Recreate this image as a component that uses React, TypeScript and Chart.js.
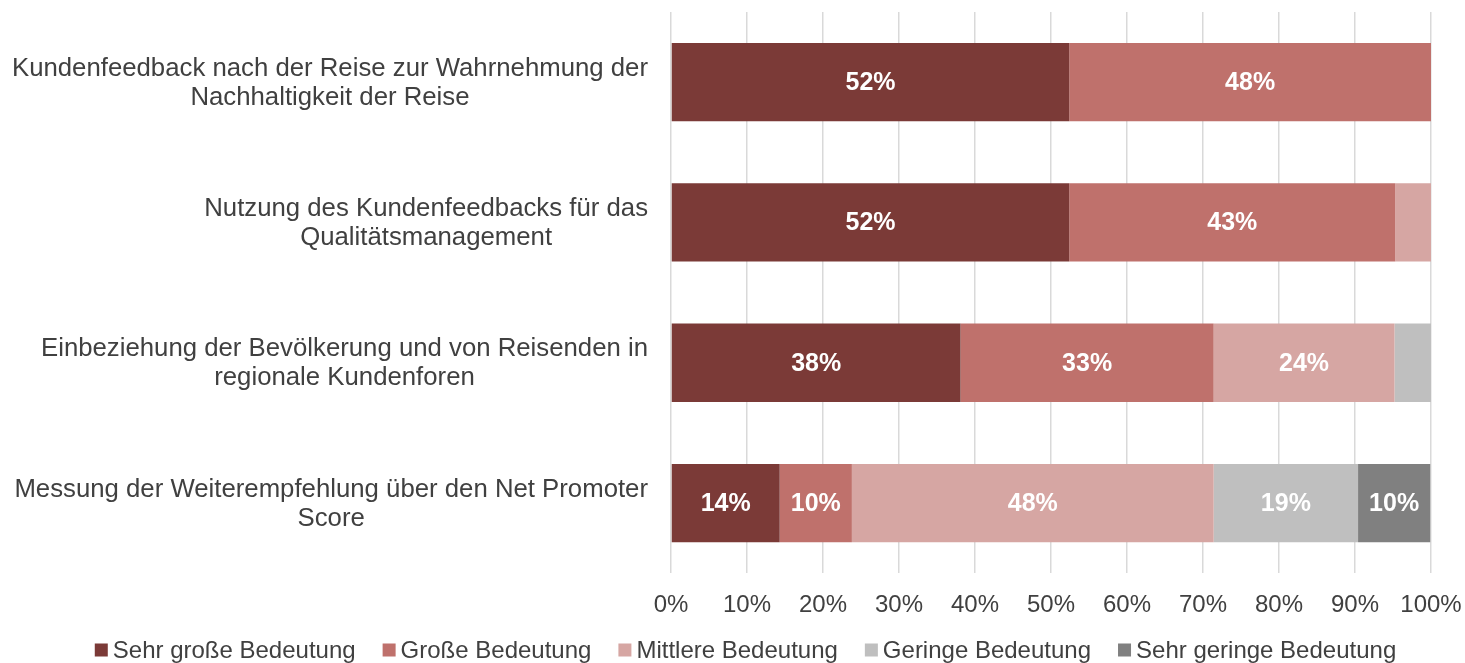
import React, { useEffect, useRef } from "react";
import { Chart, registerables } from "chart.js";

Chart.register(...registerables);

const categories: string[][] = [
  ["Kundenfeedback nach der Reise zur Wahrnehmung der", "Nachhaltigkeit der Reise"],
  ["Nutzung des Kundenfeedbacks für das", "Qualitätsmanagement"],
  ["Einbeziehung der Bevölkerung und von Reisenden in", "regionale Kundenforen"],
  ["Messung der Weiterempfehlung über den Net Promoter", "Score"],
];

const seriesNames = [
  "Sehr große Bedeutung",
  "Große Bedeutung",
  "Mittlere Bedeutung",
  "Geringe Bedeutung",
  "Sehr geringe Bedeutung",
];

const sehrGross = [52.4, 52.4, 38.1, 14.3];
const gross = [47.6, 42.9, 33.3, 9.5];
const mittlere = [0, 4.7, 23.8, 47.6];
const geringe = [0, 0, 4.8, 19.0];
const sehrGering = [0, 0, 0, 9.5];

const seriesColors = ["#7B3A37", "#BF716C", "#D6A6A3", "#BFBFBF", "#808080"];

const xTicks = [0, 10, 20, 30, 40, 50, 60, 70, 80, 90, 100];

const FONT = "'Liberation Sans', Arial, sans-serif";
const TEXT = "#404040";

const valueLabelPlugin = {
  id: "valueLabels",
  afterDatasetsDraw(chart: any) {
    const ctx = chart.ctx;
    ctx.save();
    ctx.font = `bold 25px ${FONT}`;
    ctx.fillStyle = "#FFFFFF";
    ctx.textAlign = "center";
    ctx.textBaseline = "middle";
    chart.data.datasets.forEach((ds: any, di: number) => {
      const meta = chart.getDatasetMeta(di);
      meta.data.forEach((el: any, i: number) => {
        const v = ds.data[i];
        if (v < 9) return;
        const cx = (el.x + el.base) / 2;
        ctx.fillText(`${Math.round(v)}%`, cx, el.y + 1);
      });
    });
    ctx.restore();
  },
};

// Category labels: each block right-aligned to the axis, lines centred within the block
const categoryLabelPlugin = {
  id: "categoryLabels",
  afterDraw(chart: any) {
    const ctx = chart.ctx;
    const yScale = chart.scales.y;
    const rightEdge = chart.chartArea.left - 23;
    const lineH = 29;
    ctx.save();
    ctx.font = `25.75px ${FONT}`;
    ctx.fillStyle = TEXT;
    ctx.textAlign = "center";
    ctx.textBaseline = "middle";
    (chart.data.labels as string[][]).forEach((lines, i) => {
      const yc = yScale.getPixelForValue(i);
      const maxW = Math.max(...lines.map((l) => ctx.measureText(l).width));
      const cx = rightEdge - maxW / 2;
      const y0 = yc - ((lines.length - 1) * lineH) / 2;
      lines.forEach((l, k) => ctx.fillText(l, cx, y0 + k * lineH + 1));
    });
    ctx.restore();
  },
};

const legendPlugin = {
  id: "customLegend",
  afterDraw(chart: any) {
    const ctx = chart.ctx;
    ctx.save();
    ctx.font = `24px ${FONT}`;
    ctx.textBaseline = "middle";
    ctx.textAlign = "left";
    const box = 13;
    const gap = 5;
    const spacing = 27;
    const widths = seriesNames.map((n) => ctx.measureText(n).width);
    const total =
      widths.reduce((a, b) => a + b, 0) + seriesNames.length * (box + gap) + spacing * (seriesNames.length - 1);
    let x = chart.width / 2 + 13 - total / 2;
    const yc = 650;
    seriesNames.forEach((n, i) => {
      ctx.fillStyle = seriesColors[i];
      ctx.fillRect(x, yc - box / 2, box, box);
      x += box + gap;
      ctx.fillStyle = TEXT;
      ctx.fillText(n, x, yc + 1);
      x += widths[i] + spacing;
    });
    ctx.restore();
  },
};

export default function App() {
  const ref = useRef<HTMLCanvasElement | null>(null);
  useEffect(() => {
    if (!ref.current) return;
    const data = [sehrGross, gross, mittlere, geringe, sehrGering];
    const chart = new Chart(ref.current, {
      type: "bar",
      data: {
        labels: categories,
        datasets: seriesNames.map((name, i) => ({
          label: name,
          data: data[i],
          backgroundColor: seriesColors[i],
          borderWidth: 0,
          categoryPercentage: 1,
          barPercentage: 0.558,
        })),
      },
      options: {
        indexAxis: "y",
        animation: false,
        responsive: false,
        devicePixelRatio: 1,
        layout: { padding: { top: 12, right: 34, bottom: 25, left: 0 } },
        plugins: {
          legend: { display: false },
          tooltip: { enabled: false },
        },
        scales: {
          x: {
            stacked: true,
            min: 0,
            max: 100,
            afterBuildTicks: (scale: any) => {
              scale.ticks = xTicks.map((v) => ({ value: v }));
            },
            afterFit: (scale: any) => {
              scale.paddingLeft = 0;
              scale.paddingRight = 0;
            },
            ticks: {
              callback: (v: any) => `${v}%`,
              color: TEXT,
              font: { family: FONT, size: 24, lineHeight: 1.2 },
              padding: 18,
              maxRotation: 0,
            },
            grid: { color: "#D9D9D9", lineWidth: 1.5, drawTicks: false },
            border: { display: false },
          },
          y: {
            stacked: true,
            afterFit: (scale: any) => {
              scale.width = 671;
              scale.paddingTop = 0;
              scale.paddingBottom = 0;
            },
            ticks: { display: false },
            grid: { display: false, drawTicks: false },
            border: { display: false },
          },
        },
      },
      plugins: [valueLabelPlugin, categoryLabelPlugin, legendPlugin],
    });
    return () => chart.destroy();
  }, []);
  return (
    <div style={{ position: "absolute", left: 0, top: 0, width: 1465, height: 663, background: "#fff" }}>
      <canvas ref={ref} width={1465} height={663} />
    </div>
  );
}
